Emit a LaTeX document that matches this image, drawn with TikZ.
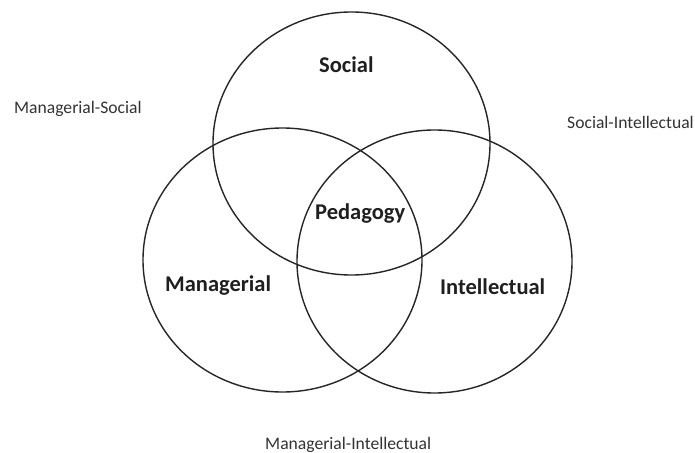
\documentclass[tikz,border=0pt]{standalone}
\usepackage{fontspec}
\setmainfont{Carlito}
\begin{document}
\begin{tikzpicture}[x=1pt,y=-1pt,
  ring/.style={draw=black!85,line width=1.4pt},
  main/.style={anchor=base west,inner sep=0pt,font=\fontsize{22.5}{26}\selectfont\bfseries,text=black!88},
  pair/.style={anchor=base west,inner sep=0pt,font=\fontsize{17.6}{21}\selectfont,text=black!80}]
\useasboundingbox (0,0) rectangle (695,452);
\fill[white] (0,0) rectangle (695,452);
\draw[ring] (351.5,143.5) ellipse [x radius=138.5pt, y radius=131.5pt];
\draw[ring] (282.5,260) ellipse [x radius=139.5pt, y radius=132pt];
\draw[ring] (434.5,261.5) ellipse [x radius=137.5pt, y radius=131.5pt];
\node[main] (social) at (319,72) {Social};
\node[main] (ped) at (315,219) {Pedagogy};
\node[main] (man) at (165,291) {Managerial};
\node[main] (int) at (440,294) {Intellectual};
\node[pair] (ms) at (14,113) {Managerial-Social};
\node[pair] (si) at (567,128) {Social-Intellectual};
\node[pair] (mi) at (265,449) {Managerial-Intellectual};
\end{tikzpicture}
\end{document}
